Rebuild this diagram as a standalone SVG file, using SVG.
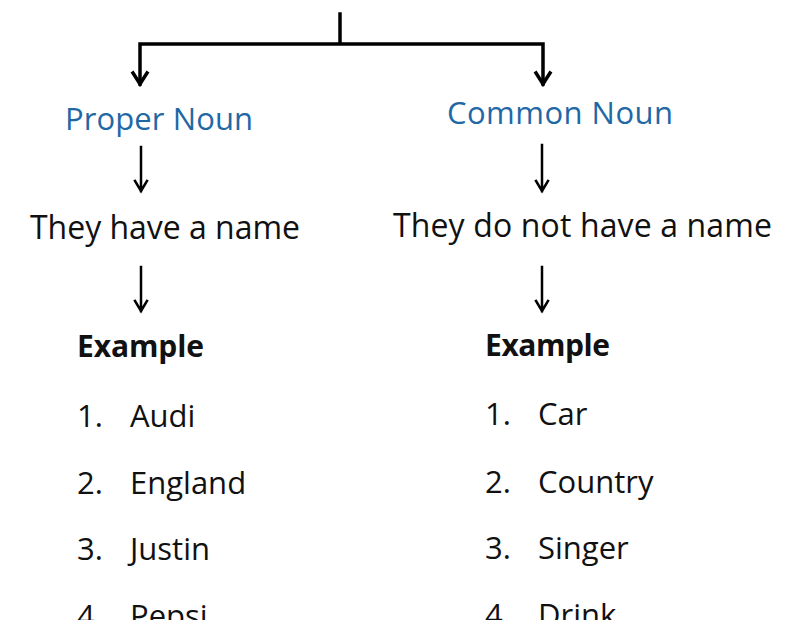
<svg xmlns="http://www.w3.org/2000/svg" width="805" height="620" viewBox="0 0 805 620">
<style>
  text { font-family: "Open Sans", "Noto Sans", "Liberation Sans", sans-serif; fill: #111; }
  .head { fill: #1f68a6; font-size: 31px; }
  .desc { font-size: 32px; }
  .ex { font-size: 30px; font-weight: 700; }
  .item { font-size: 31px; }
  .conn { stroke: #000; fill: none; stroke-linecap: square; }
  .thick { stroke-width: 3.5; }
  .thin { stroke-width: 2.5; }
</style>
<rect width="805" height="620" fill="#fff"/>
<g id="connectors">
  <path class="conn thick" d="M340 14 V44 M140 44 H543 M140 44 V84 M543 44 V84"/>
  <path class="conn thick" d="M133 73 L140 84 L147 73 M536 73 L543 84 L550 73"/>
  <path class="conn thin" d="M141 147 V191 M135 181 L141 191 L147 181"/>
  <path class="conn thin" d="M141 267 V311 M135 301 L141 311 L147 301"/>
  <path class="conn thin" d="M542 145 V191 M536 181 L542 191 L548 181"/>
  <path class="conn thin" d="M542 267 V311 M536 301 L542 311 L548 301"/>
</g>
<g id="proper-noun"><text class="head" x="65" y="130" textLength="188">Proper Noun</text></g>
<g id="common-noun"><text class="head" x="447" y="124" textLength="226">Common Noun</text></g>
<g id="proper-desc"><text class="desc" x="30" y="239" textLength="270">They have a name</text></g>
<g id="common-desc"><text class="desc" x="393" y="237" textLength="379">They do not have a name</text></g>
<g id="proper-examples">
  <text class="ex" x="77" y="357" textLength="127">Example</text>
  <text class="item" x="77" y="427">1.</text><text class="item" x="130" y="427">Audi</text>
  <text class="item" x="77" y="494">2.</text><text class="item" x="130" y="494">England</text>
  <text class="item" x="77" y="560">3.</text><text class="item" x="130" y="560">Justin</text>
  <text class="item" x="77" y="627">4.</text><text class="item" x="130" y="627">Pepsi</text>
</g>
<g id="common-examples">
  <text class="ex" x="485" y="356" textLength="125">Example</text>
  <text class="item" x="485" y="425">1.</text><text class="item" x="538" y="425">Car</text>
  <text class="item" x="485" y="493">2.</text><text class="item" x="538" y="493">Country</text>
  <text class="item" x="485" y="559">3.</text><text class="item" x="538" y="559">Singer</text>
  <text class="item" x="485" y="626">4.</text><text class="item" x="538" y="626">Drink</text>
</g>
</svg>
